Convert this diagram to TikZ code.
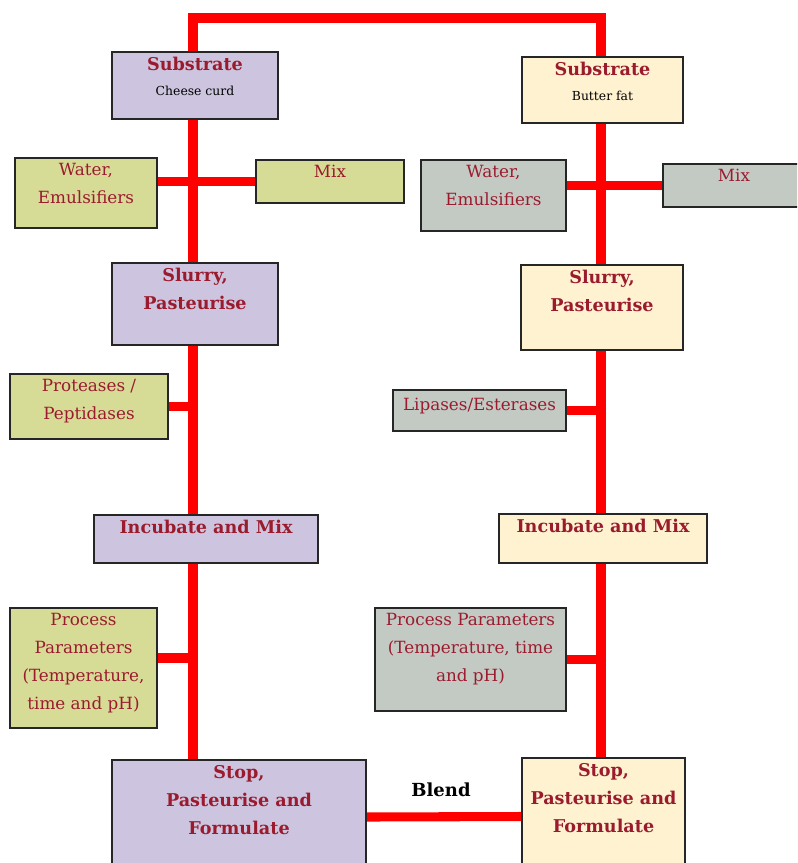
\documentclass[tikz,border=0pt]{standalone}
\usepackage{fontspec}
\setmainfont{DejaVu Serif}
\usetikzlibrary{fit}
\definecolor{txtred}{HTML}{9B1B2E}
\definecolor{lav}{HTML}{CDC5DF}
\definecolor{olive}{HTML}{D6DC96}
\definecolor{cream}{HTML}{FFF2D0}
\definecolor{sage}{HTML}{C3CAC4}
\definecolor{flow}{HTML}{FF0000}
\tikzset{
  boxshape/.style={rectangle, inner sep=0pt},
  boxtext/.style={text=txtred, align=center, anchor=north, inner sep=0pt,
    font=\fontsize{12.6}{21}\selectfont},
  boldtext/.style={boxtext, font=\fontsize{13.2}{21}\selectfont\bfseries},
  subtext/.style={text=black, anchor=north, inner sep=0pt, font=\fontsize{9.3}{11}\selectfont},
  flowline/.style={draw=flow, line width=6.8pt, line join=miter},
}
% name a box region by its corners (pixel units, y downwards)
\newcommand\pbox[3]{%
  \path (#2) coordinate (#1-nw) (#3) coordinate (#1-se);
  \node[boxshape, fit=(#1-nw)(#1-se)] (#1) {};}
\begin{document}
\begin{tikzpicture}[x=0.75pt, y=-0.75pt]
\useasboundingbox (0,0) rectangle (797,863);
\clip (0,0) rectangle (797,863);

% corner points of the loop joining both process lines
\coordinate (ltop) at (193,18);
\coordinate (rtop) at (601,18);

% boxes of the cheese-curd line
\pbox{lsub}{112,52}{278,119}
\pbox{lwat}{15,158}{157,228}
\pbox{lmix}{256,160}{404,203}
\pbox{lslu}{112,263}{278,345}
\pbox{lpro}{10,374}{168,439}
\pbox{linc}{94,515}{318,563}
\pbox{lpar}{10,608}{157,728}
\pbox{lstop}{112,760}{366,874}

% boxes of the butter-fat line
\pbox{rsub}{522,57}{683,123}
\pbox{rwat}{421,160}{566,231}
\pbox{rmix}{663,164}{805,207}
\pbox{rslu}{521,265}{683,350}
\pbox{rlip}{393,390}{566,431}
\pbox{rinc}{499,514}{707,563}
\pbox{rpar}{375,608}{566,711}
\pbox{rstop}{522,758}{685,874}

% red flow lines, drawn first so the boxes cover their ends
\draw[flowline] (ltop |- lstop.north) -- (ltop) -- (rtop) -- (rtop |- rstop.north);
\draw[flowline] (lwat.east |- lmix.west) -- (lmix.west);
\draw[flowline] (rwat.east |- rmix.west) -- (rmix.west);
\draw[flowline] (lpro.east) -- (lpro.east -| ltop);
\draw[flowline] (rlip.east) -- (rlip.east -| rtop);
\draw[flowline] ([yshift=7.5pt]lpar.east) -- ([yshift=7.5pt]lpar.east -| ltop);
\draw[flowline] (rpar.east) -- (rpar.east -| rtop);
\draw[flowline] (lstop.east) -- (rstop.east);
\node[font=\fontsize{13.5}{15}\selectfont\bfseries, inner sep=1pt] (blend) at (441,790) {Blend};

% filled boxes
\foreach \b/\c in {lsub/lav,lwat/olive,lmix/olive,lslu/lav,lpro/olive,linc/lav,lpar/olive,lstop/lav,
                   rsub/cream,rwat/sage,rmix/sage,rslu/cream,rlip/sage,rinc/cream,rpar/sage,rstop/cream}
  \filldraw[fill=\c, draw=black!85, line width=1.2pt] (\b.north west) rectangle (\b.south east);

% box texts
\node[boldtext] (tlsub) at ([yshift=-4pt]lsub.north) {Substrate};
\node[subtext] at ([yshift=-11pt]tlsub.south) {Cheese curd};
\node[boxtext] at ([yshift=-4pt]lwat.north) {Water,\\Emulsifiers};
\node[boxtext] at ([yshift=-4pt]lmix.north) {Mix};
\node[boldtext] at ([yshift=-4pt]lslu.north) {Slurry,\\Pasteurise};
\node[boxtext] at ([yshift=-4pt]lpro.north) {Proteases /\\Peptidases};
\node[boldtext] at ([yshift=-4pt]linc.north) {Incubate and Mix};
\node[boxtext] at ([yshift=-4pt]lpar.north) {Process\\Parameters\\(Temperature,\\time and pH)};
\node[boldtext] at ([yshift=-4pt]lstop.north) {Stop,\\Pasteurise and\\Formulate};

\node[boldtext] (trsub) at ([yshift=-4pt]rsub.north) {Substrate};
\node[subtext] at ([yshift=-11pt]trsub.south) {Butter fat};
\node[boxtext] at ([yshift=-4pt]rwat.north) {Water,\\Emulsifiers};
\node[boxtext] at ([yshift=-4pt]rmix.north -| 734,0) {Mix};
\node[boldtext] at ([yshift=-4pt]rslu.north) {Slurry,\\Pasteurise};
\node[boxtext] at ([yshift=-6pt]rlip.north) {Lipases/Esterases};
\node[boldtext] at ([yshift=-4pt]rinc.north) {Incubate and Mix};
\node[boxtext] at ([yshift=-4pt]rpar.north) {Process Parameters\\(Temperature, time\\and pH)};
\node[boldtext] at ([yshift=-4pt]rstop.north) {Stop,\\Pasteurise and\\Formulate};
\end{tikzpicture}
\end{document}
